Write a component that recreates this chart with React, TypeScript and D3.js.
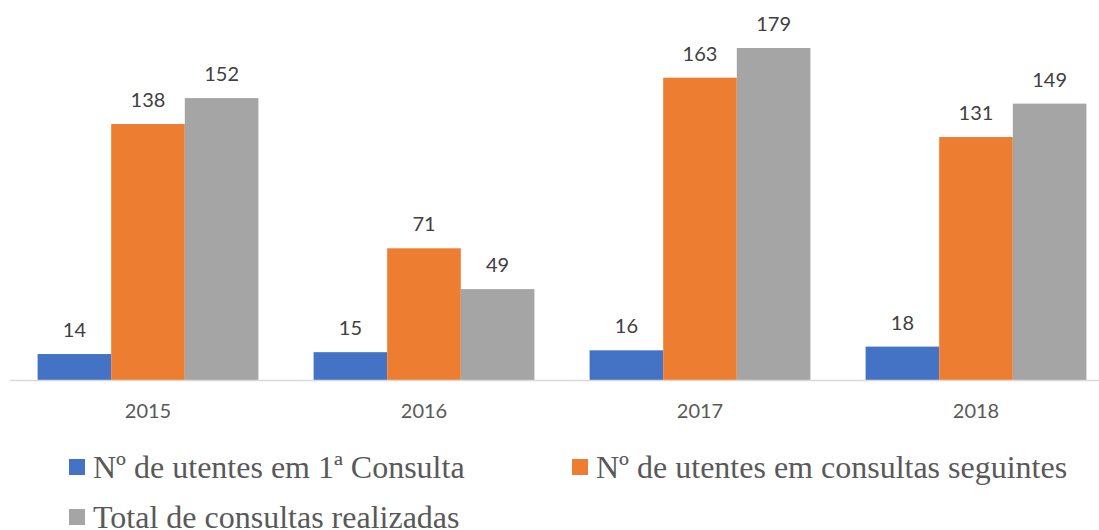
import React from "react";
import * as d3 from "d3";

const categories = ["2015", "2016", "2017", "2018"];
const seriesNames = [
  "Nº de utentes em 1ª Consulta",
  "Nº de utentes em consultas seguintes",
  "Total de consultas realizadas",
];
const primeiraConsulta = [14, 15, 16, 18];
const consultasSeguintes = [138, 71, 163, 131];
const totalConsultas = [152, 49, 179, 149];
const colors = ["#4472C4", "#ED7D31", "#A5A5A5"];

const W = 1099;
const H = 530;

export default function App() {
  const series = [primeiraConsulta, consultasSeguintes, totalConsultas];
  const x0 = d3.scaleBand<string>().domain(categories).range([10, 1114]).paddingInner(0.2).paddingOuter(0.1);
  const x1 = d3.scaleBand<number>().domain([0, 1, 2]).range([0, x0.bandwidth()]);
  const y = d3.scaleLinear().domain([0, 179]).range([380, 48]);

  const legendItems = [
    { x: 69, y: 478 },
    { x: 572, y: 478 },
    { x: 69, y: 528 },
  ];

  return (
    <svg width={W} height={H} style={{ position: "absolute", left: 0, top: 0, background: "#fff" }}>
      {categories.map((c, ci) => (
        <g key={c} transform={`translate(${x0(c)},0)`}>
          {series.map((s, si) => (
            <g key={si}>
              <rect x={x1(si)} y={y(s[ci])} width={x1.bandwidth()} height={y(0) - y(s[ci])} fill={colors[si]} />
              <text
                x={(x1(si) as number) + x1.bandwidth() / 2}
                y={y(s[ci]) - 17}
                textAnchor="middle"
                fontFamily="Lato, 'Open Sans', sans-serif"
                fontSize={20}
                fill="#404040"
              >
                {s[ci]}
              </text>
            </g>
          ))}
        </g>
      ))}
      <line x1={10} x2={W} y1={380.5} y2={380.5} stroke="#D9D9D9" strokeWidth={1.5} />
      {categories.map((c) => (
        <text
          key={c}
          x={(x0(c) as number) + x0.bandwidth() / 2}
          y={418}
          textAnchor="middle"
          fontFamily="Lato, 'Open Sans', sans-serif"
          fontSize={20}
          fill="#595959"
        >
          {c}
        </text>
      ))}
      {seriesNames.map((n, i) => (
        <g key={n}>
          <rect x={legendItems[i].x} y={legendItems[i].y - 19} width={16} height={16} fill={colors[i]} />
          <text
            x={legendItems[i].x + 24}
            y={legendItems[i].y}
            fontFamily="'Liberation Serif', 'Times New Roman', serif"
            fontSize={32}
            fill="#595959"
          >
            {n}
          </text>
        </g>
      ))}
    </svg>
  );
}
